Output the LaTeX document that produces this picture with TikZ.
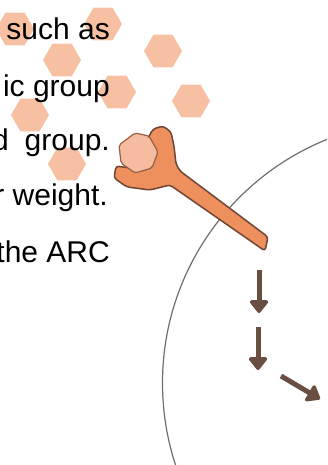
\documentclass[tikz,border=0pt]{standalone}
\usepackage{fontspec}
\setmainfont{Liberation Sans}
\usetikzlibrary{shapes.geometric,arrows.meta}
\definecolor{peach}{RGB}{247,192,163}
\definecolor{coral}{RGB}{238,143,94}
\definecolor{umber}{RGB}{110,70,50}
\definecolor{blush}{RGB}{245,188,160}
\definecolor{sienna}{RGB}{150,95,70}
\definecolor{cocoa}{RGB}{105,78,66}
\definecolor{slate}{RGB}{110,110,110}

\begin{document}
\begin{tikzpicture}[x=1pt,y=-1pt,
    hexa/.style={regular polygon, regular polygon sides=6, minimum size=38pt, inner sep=0pt, fill=peach},
    line/.style={font=\fontsize{30}{36}\selectfont, anchor=base east, inner sep=0pt},
    flow/.style={cocoa, line width=5pt, -{Triangle[width=21pt,length=14pt,round]}}]
            \useasboundingbox (0,0) rectangle (327,465);
            \clip             (0,0) rectangle (327,465);
            \draw[slate, line width=1.2pt] (425,383) circle (262.5);
            \foreach \i/\x/\y in {1/15/29, 2/103/24, 3/62/60, 4/163/51, 5/117/92, 6/191/101, 7/30/115, 8/67/164}
                \node[hexa] (h\i) at (\x,\y) {};
            \node[line] (l1) at (110, 40) {such as};
            \node[line] (l2) at (110, 97) {ic group};
            \node[line] (l3) at (110,150) {d\hspace{16pt}group.};
            \node[line] (l4) at (108,205) {r weight.};
            \node[line] (l5) at (110,262) {the ARC};
            % receptor: claw with its stem, and the bound ligand
            \filldraw[draw=umber, fill=coral, line width=1.5pt, rounded corners=3pt, line join=round]
                 (147,140) -- (153,129) -- (163,126) -- (171,132) -- (174,146) -- (176,164) -- (180,171)
                 -- (268,237) -- (265,251) -- (170,185) -- (150,190) -- (127,187) -- (114,178)
                 -- (116,166) -- (130,168) -- (148,160) -- cycle;
            \filldraw[draw=sienna, fill=blush, line width=1.2pt, rounded corners=2pt]
                 (119,145) -- (135,133) -- (149,136) -- (158,152) -- (152,168) -- (135,173) -- (121,163) -- cycle;
            \coordinate (s1) at (259,270);  \coordinate (t1) at (259,313);
            \coordinate (s2) at (258,327);  \coordinate (t2) at (258,370);
            \coordinate (s3) at (281,376);  \coordinate (t3) at (320,399);
            \draw[flow] (s1) -- (t1);
            \draw[flow] (s2) -- (t2);
            \draw[flow] (s3) -- (t3);
\end{tikzpicture}
\end{document}
